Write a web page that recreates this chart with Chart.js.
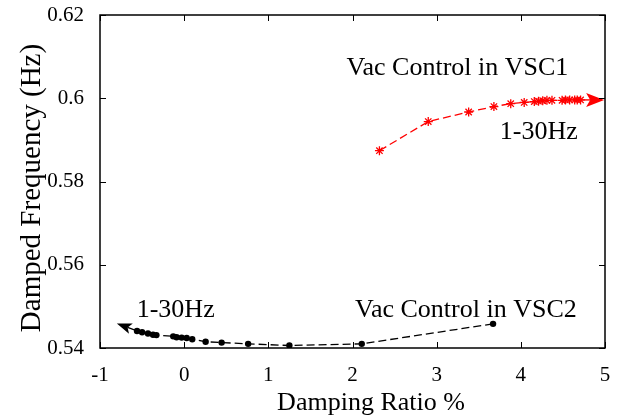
<!DOCTYPE html>
<html>
<head>
<meta charset="utf-8">
<script src="https://cdn.jsdelivr.net/npm/chart.js@4/dist/chart.umd.min.js"></script>
<style>
  html, body { margin: 0; padding: 0; background: #fff; }
  canvas { display: block; }
</style>
</head>
<body>
<canvas id="c" width="636" height="419"></canvas>
<script>
// Tick labels
const xTickLabels = ['-1', '0', '1', '2', '3', '4', '5'];
const yTickLabels = ['0.54', '0.56', '0.58', '0.6', '0.62'];

// Vac control in VSC1: damping ratio (%) and damped frequency (Hz), 1 -> 30 Hz
const vsc1Damping = [2.32, 2.90, 3.38, 3.68, 3.88, 4.04, 4.16, 4.21, 4.26, 4.31, 4.37, 4.49, 4.53, 4.58, 4.64, 4.67, 4.71];
const vsc1Freq    = [0.5874, 0.5944, 0.5967, 0.5980, 0.5987, 0.5990, 0.5992, 0.5993, 0.5994, 0.5995, 0.5995, 0.5995, 0.5996, 0.5996, 0.5996, 0.5996, 0.5996];

// Vac control in VSC2: damping ratio (%) and damped frequency (Hz), 1 -> 30 Hz
const vsc2Damping = [3.67, 2.11, 1.25, 0.76, 0.445, 0.255, 0.096, 0.03, -0.03, -0.09, -0.13, -0.33, -0.37, -0.43, -0.50, -0.56];
const vsc2Freq    = [0.5458, 0.5410, 0.5406, 0.5410, 0.5413, 0.5415, 0.5421, 0.5424, 0.5425, 0.5426, 0.5428, 0.5431, 0.5432, 0.5435, 0.5438, 0.5441];

// Where each sweep arrow ends (damping %, frequency Hz)
const vsc1ArrowTip = [4.99, 0.5996];
const vsc2ArrowTip = [-0.80, 0.5459];

const FONT = 'Liberation Serif';

function toPoints(xs, ys) { return xs.map((v, i) => ({ x: v, y: ys[i] })); }

function drawArrow(ctx, x0, y0, x1, y1, color, len, half, notch, width) {
  const ang = Math.atan2(y1 - y0, x1 - x0);
  const cos = Math.cos(ang), sin = Math.sin(ang);
  const bx = x1 - len * cos, by = y1 - len * sin;
  ctx.strokeStyle = color;
  ctx.fillStyle = color;
  ctx.lineWidth = width;
  ctx.setLineDash([]);
  ctx.beginPath();
  ctx.moveTo(x0, y0);
  ctx.lineTo(bx + notch * cos, by + notch * sin);
  ctx.stroke();
  ctx.beginPath();
  ctx.moveTo(x1, y1);
  ctx.lineTo(bx - half * sin, by + half * cos);
  ctx.lineTo(bx + notch * cos, by + notch * sin);
  ctx.lineTo(bx + half * sin, by - half * cos);
  ctx.closePath();
  ctx.fill();
}

const notes = [
  { text: 'Vac Control in VSC1', x: 1.93, y: 0.6056 },
  { text: '1-30Hz', x: 3.75, y: 0.5902 },
  { text: '1-30Hz', x: -0.564, y: 0.5475 },
  { text: 'Vac Control in VSC2', x: 2.03, y: 0.5475 }
];

const axesDecor = {
  id: 'axesDecor',
  afterDatasetsDraw(chart) {
    const { ctx, chartArea: a, scales: { x, y } } = chart;
    ctx.save();

    // sweep arrows
    drawArrow(ctx,
      x.getPixelForValue(vsc1Damping[vsc1Damping.length - 1]), y.getPixelForValue(vsc1Freq[vsc1Freq.length - 1]),
      x.getPixelForValue(vsc1ArrowTip[0]), y.getPixelForValue(vsc1ArrowTip[1]),
      '#ff0000', 18, 7, 4, 1.4);
    drawArrow(ctx,
      x.getPixelForValue(vsc2Damping[vsc2Damping.length - 1]), y.getPixelForValue(vsc2Freq[vsc2Freq.length - 1]),
      x.getPixelForValue(vsc2ArrowTip[0]), y.getPixelForValue(vsc2ArrowTip[1]),
      '#000000', 15, 5.5, 3.5, 1.4);

    // box
    ctx.strokeStyle = '#000';
    ctx.lineWidth = 1.5;
    ctx.strokeRect(a.left, a.top, a.right - a.left, a.bottom - a.top);

    // inward tick marks on all four sides
    ctx.lineWidth = 1;
    const tl = 6;
    ctx.beginPath();
    x.ticks.forEach(t => {
      const p = Math.round(x.getPixelForValue(t.value)) + 0.5;
      ctx.moveTo(p, a.bottom); ctx.lineTo(p, a.bottom - tl);
      ctx.moveTo(p, a.top); ctx.lineTo(p, a.top + tl);
    });
    y.ticks.forEach(t => {
      const p = Math.round(y.getPixelForValue(t.value)) + 0.5;
      ctx.moveTo(a.left, p); ctx.lineTo(a.left + tl, p);
      ctx.moveTo(a.right, p); ctx.lineTo(a.right - tl, p);
    });
    ctx.stroke();

    // text annotations
    ctx.fillStyle = '#000';
    ctx.font = '26px "' + FONT + '"';
    ctx.textAlign = 'left';
    ctx.textBaseline = 'alphabetic';
    notes.forEach(n => ctx.fillText(n.text, x.getPixelForValue(n.x), y.getPixelForValue(n.y)));

    // axis titles
    ctx.textAlign = 'center';
    ctx.fillText('Damping Ratio %', 371, 410);
    ctx.font = '29px "' + FONT + '"';
    ctx.translate(40, 188);
    ctx.rotate(-Math.PI / 2);
    ctx.fillText('Damped Frequency (Hz)', 0, 0);

    ctx.restore();
  }
};

new Chart(document.getElementById('c'), {
  type: 'scatter',
  data: {
    datasets: [
      {
        label: 'Vac Control in VSC1',
        data: toPoints(vsc1Damping, vsc1Freq),
        showLine: true,
        borderColor: '#ff0000',
        backgroundColor: '#ff0000',
        borderWidth: 1.3,
        borderDash: [8, 4],
        tension: 0,
        pointStyle: 'star',
        pointRadius: 4.5,
        pointBorderWidth: 1.3,
        pointBorderColor: '#ff0000'
      },
      {
        label: 'Vac Control in VSC2',
        data: toPoints(vsc2Damping, vsc2Freq),
        showLine: true,
        borderColor: '#000000',
        backgroundColor: '#000000',
        borderWidth: 1.3,
        borderDash: [8, 4],
        tension: 0,
        pointStyle: 'circle',
        pointRadius: 3.2,
        pointBorderWidth: 0,
        pointBackgroundColor: '#000000'
      }
    ]
  },
  options: {
    responsive: false,
    animation: false,
    devicePixelRatio: 1,
    layout: { padding: { top: 15, right: 31, left: 0, bottom: 0 } },
    plugins: { legend: { display: false }, tooltip: { enabled: false } },
    scales: {
      x: {
        type: 'linear',
        min: -1, max: 5,
        afterBuildTicks: s => { s.ticks = xTickLabels.map(v => ({ value: Number(v) })); },
        afterFit: s => { s.height = 71; s.paddingLeft = 0; s.paddingRight = 0; },
        grid: { display: false },
        border: { display: false },
        ticks: {
          callback: (v, i) => xTickLabels[i],
          color: '#000',
          padding: 7,
          maxRotation: 0,
          font: { family: FONT, size: 21 }
        }
      },
      y: {
        type: 'linear',
        min: 0.54, max: 0.62,
        afterBuildTicks: s => { s.ticks = yTickLabels.map(v => ({ value: Number(v) })); },
        afterFit: s => { s.width = 100; s.paddingTop = 0; s.paddingBottom = 0; },
        grid: { display: false },
        border: { display: false },
        ticks: {
          callback: (v, i) => yTickLabels[i],
          color: '#000',
          padding: 8,
          font: { family: FONT, size: 21 }
        }
      }
    }
  },
  plugins: [axesDecor]
});
</script>
</body>
</html>
